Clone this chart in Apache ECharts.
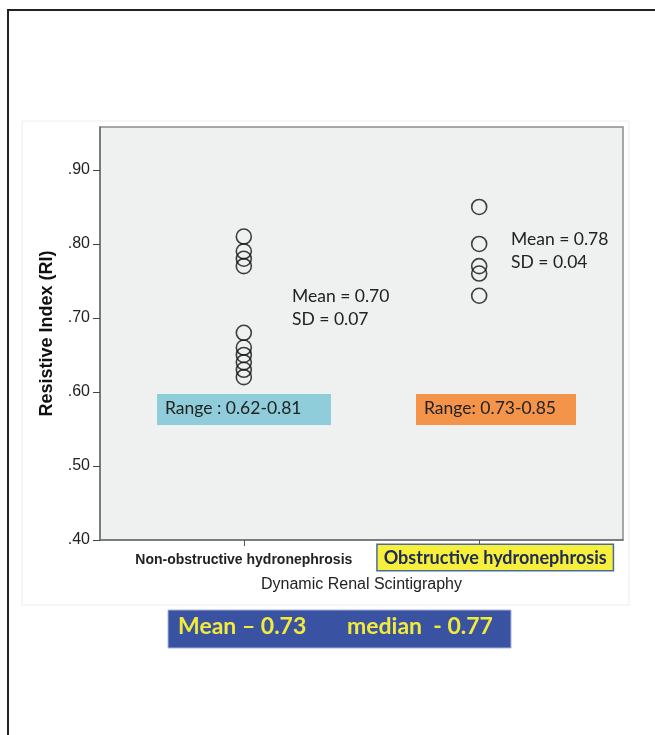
<!DOCTYPE html>
<html>
<head>
<meta charset="utf-8">
<script src="https://cdn.jsdelivr.net/npm/echarts@6/dist/echarts.min.js"></script>
<style>
html,body{margin:0;padding:0;background:#fff;}
#chart{width:655px;height:735px;}
</style>
</head>
<body>
<div id="chart"></div>
<script>
// ---- data ----
var categories = ['Non-obstructive hydronephrosis', 'Obstructive hydronephrosis'];
var nonObstructiveRI = [0.81, 0.79, 0.78, 0.77, 0.68, 0.66, 0.65, 0.64, 0.63, 0.62];
var obstructiveRI = [0.85, 0.80, 0.77, 0.76, 0.73];
var yTicks = [0.40, 0.50, 0.60, 0.70, 0.80, 0.90];
var statsNon = ['Mean = 0.70', 'SD = 0.07'];
var statsObs = ['Mean = 0.78', 'SD = 0.04'];
var rangeNon = 'Range : 0.62-0.81';
var rangeObs = 'Range: 0.73-0.85';
var summaryText = ['Mean \u2013 0.73', 'median  - 0.77'];

var chart = echarts.init(document.getElementById('chart'));

function pts(idx, arr){ return arr.map(function(v){ return [idx, v]; }); }

var calib = 'Lato, "Open Sans", sans-serif';
var arial = '"Liberation Sans", Arial, sans-serif';

var option = {
  backgroundColor: '#ffffff',
  animation: false,
  grid: {
    left: 100, top: 127, right: 32, bottom: 195,
    show: true, backgroundColor: '#eff0f0', borderColor: '#8c8c8c', borderWidth: 1.5
  },
  xAxis: {
    type: 'value', min: -0.611, max: 1.611,
    name: 'Dynamic Renal Scintigraphy', nameLocation: 'middle', nameGap: 37,
    nameTextStyle: { fontFamily: arial, fontSize: 16, color: '#222' },
    splitLine: { show: false },
    axisLine: { show: true, onZero: false, lineStyle: { color: '#6e6e6e', width: 1.5 } },
    axisTick: { show: true, customValues: [0, 1], length: 6, lineStyle: { color: '#555' } },
    axisLabel: {
      customValues: [0, 1], margin: 5,
      formatter: function(v){
        var i = Math.round(v);
        return i === 0 ? '{a|' + categories[0] + '}' : '{s| }{b|' + categories[1] + '}';
      },
      rich: {
        a: { fontFamily: arial, fontWeight: 'bold', fontSize: 14, color: '#222', padding: [8, 0, 0, 0] },
        s: { width: 32, fontSize: 18, color: 'rgba(0,0,0,0)' },
        b: { fontFamily: calib, fontWeight: 'bold', fontSize: 18, color: '#1f2a55',
             backgroundColor: '#f6ef3c', borderColor: '#4a6a9a', borderWidth: 1.5, padding: [4, 6, 3, 6] }
      }
    }
  },
  yAxis: {
    type: 'value', min: 0.4, max: 0.958, interval: 0.1,
    name: 'Resistive Index (RI)', nameLocation: 'middle', nameGap: 44, nameRotate: 90,
    nameTextStyle: { fontFamily: arial, fontWeight: 'bold', fontSize: 18, color: '#111' },
    splitLine: { show: false },
    axisLine: { show: true, onZero: false, lineStyle: { color: '#6e6e6e', width: 1.5 } },
    axisTick: { show: true, length: 7, lineStyle: { color: '#444' } },
    axisLabel: {
      showMaxLabel: false, margin: 10,
      fontFamily: arial, fontSize: 16, color: '#222',
      formatter: function(v){ return '.' + Math.round(v * 100); }
    }
  },
  series: [
    { type: 'scatter', data: pts(0, nonObstructiveRI), symbol: 'circle', symbolSize: 15,
      itemStyle: { color: 'rgba(0,0,0,0)', borderColor: '#111', borderWidth: 1.6 } },
    { type: 'scatter', data: pts(1, obstructiveRI), symbol: 'circle', symbolSize: 15,
      itemStyle: { color: 'rgba(0,0,0,0)', borderColor: '#111', borderWidth: 1.6 } }
  ],
  graphic: [
    { type: 'rect', z: -10, shape: { x: 8, y: 10, width: 700, height: 800 },
      style: { fill: 'none', stroke: '#222', lineWidth: 2 } },
    { type: 'rect', z: -9, shape: { x: 22, y: 121, width: 607, height: 484 },
      style: { fill: '#fff', stroke: '#ececec', lineWidth: 1 } },
    { type: 'text', left: 292, top: 285, style: { text: statsNon.join('\n'), fontFamily: calib, fontSize: 17.5, lineHeight: 23, fill: '#222' } },
    { type: 'text', left: 511, top: 228, style: { text: statsObs.join('\n'), fontFamily: calib, fontSize: 17.5, lineHeight: 23, fill: '#222' } },
    { type: 'rect', shape: { x: 157, y: 394, width: 174, height: 31 }, style: { fill: '#8ecdd9' } },
    { type: 'text', left: 165, top: 399, style: { text: rangeNon, fontFamily: calib, fontSize: 17.5, fill: '#222' } },
    { type: 'rect', shape: { x: 416, y: 394, width: 160, height: 31 }, style: { fill: '#f4944a' } },
    { type: 'text', left: 424, top: 399, style: { text: rangeObs, fontFamily: calib, fontSize: 17.5, fill: '#222' } },
    { type: 'rect', shape: { x: 168, y: 610, width: 343, height: 38 }, style: { fill: '#3953a2', stroke: '#aab4dd', lineWidth: 1 } },
    { type: 'text', left: 178, top: 615, style: { text: summaryText[0], fontFamily: calib, fontWeight: 'bold', fontSize: 23, fill: '#f3ea3a' } },
    { type: 'text', left: 347, top: 615, style: { text: summaryText[1], fontFamily: calib, fontWeight: 'bold', fontSize: 23, fill: '#f3ea3a' } }
  ]
};
chart.setOption(option);
</script>
</body>
</html>
